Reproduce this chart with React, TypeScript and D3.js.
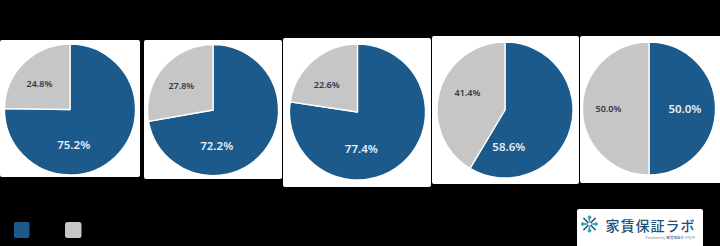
import React from "react";
import * as d3 from "d3";

// ---- data ----
const categories = ["1", "2", "3", "4", "5"];
const blueValues = [75.2, 72.2, 77.4, 58.6, 50.0];
const greyValues = [24.8, 27.8, 22.6, 41.4, 50.0];
const legendLabels = ["", ""];
const logoText = "家賃保証ラボ";
const logoSub = "家賃保証クラウド";

// ---- layout ----
const W = 720;
const H = 246;
const panels = [
  { x: 0, y: 40, w: 140, h: 137, cx: 70, cy: 109.5, r: 65.5 },
  { x: 144, y: 40, w: 138, h: 139, cx: 213, cy: 110, r: 65.5 },
  { x: 283, y: 38, w: 148, h: 149, cx: 357.5, cy: 112, r: 68 },
  { x: 432, y: 36, w: 147, h: 148, cx: 505, cy: 110, r: 68 },
  { x: 580, y: 36, w: 142, h: 147, cx: 649, cy: 108.5, r: 66.5 },
];
const BLUE = "#1b5a8b";
const GREY = "#c6c6c6";

const pieGen = d3
  .pie<number>()
  .sort(null)
  .value((d) => d)
  .startAngle(0)
  .endAngle(2 * Math.PI);

function labelPos(a: d3.PieArcDatum<number>, idx: number, r: number) {
  const mid = (a.startAngle + a.endAngle) / 2;
  const frac = (a.endAngle - a.startAngle) / (2 * Math.PI);
  let ang = mid;
  let rr: number;
  if (idx === 0) {
    if (frac > 0.5001) ang = (174 * Math.PI) / 180;
    rr = r * 0.54;
  } else {
    if (frac < 0.4999) ang = (mid + (305 * Math.PI) / 180) / 2;
    rr = r * 0.61;
  }
  return [Math.sin(ang) * rr, -Math.cos(ang) * rr];
}

function Snowflake({ cx, cy }: { cx: number; cy: number }) {
  const spokes = d3.range(8);
  return (
    <g transform={`translate(${cx},${cy})`}>
      {spokes.map((i) => {
        const ang = (i * Math.PI) / 4;
        const col = i % 2 === 0 ? "#2aa0b4" : "#1f4e79";
        const x1 = Math.sin(ang) * 2.2;
        const y1 = -Math.cos(ang) * 2.2;
        const x2 = Math.sin(ang) * 8;
        const y2 = -Math.cos(ang) * 8;
        const bx = Math.sin(ang) * 5.2;
        const by = -Math.cos(ang) * 5.2;
        const p1 = ang + 0.6;
        const p2 = ang - 0.6;
        return (
          <g key={i} stroke={col} strokeWidth={1.5} strokeLinecap="round">
            <line x1={x1} y1={y1} x2={x2} y2={y2} />
            {i % 2 === 0 && (
              <>
                <line x1={bx} y1={by} x2={bx + Math.sin(p1) * 2.2} y2={by - Math.cos(p1) * 2.2} />
                <line x1={bx} y1={by} x2={bx + Math.sin(p2) * 2.2} y2={by - Math.cos(p2) * 2.2} />
              </>
            )}
          </g>
        );
      })}
    </g>
  );
}

export default function App() {
  const fontFamily = "'Noto Sans', 'Open Sans', sans-serif";
  return (
    <svg
      width={W}
      height={H}
      viewBox={`0 0 ${W} ${H}`}
      style={{ position: "absolute", left: 0, top: 0, display: "block" }}
      fontFamily={fontFamily}
    >
      <rect x={0} y={0} width={W} height={H} fill="#000" />
      {categories.map((c, i) => {
        const p = panels[i];
        const arcs = pieGen([blueValues[i], greyValues[i]]);
        const arcGen = d3.arc<d3.PieArcDatum<number>>().innerRadius(0).outerRadius(p.r);
        return (
          <g key={c}>
            <rect x={p.x} y={p.y} width={p.w} height={p.h} rx={2} fill="#fff" />
            <g transform={`translate(${p.cx},${p.cy})`}>
              {arcs.map((a, j) => (
                <path
                  key={j}
                  d={arcGen(a) || ""}
                  fill={j === 0 ? BLUE : GREY}
                  stroke="#fff"
                  strokeWidth={1.3}
                  strokeLinejoin="round"
                />
              ))}
              {arcs.map((a, j) => {
                const [lx, ly] = labelPos(a, j, p.r);
                return (
                  <text
                    key={"t" + j}
                    x={lx}
                    y={ly}
                    textAnchor="middle"
                    dominantBaseline="central"
                    fontWeight={600}
                    fontSize={j === 0 ? 11.5 : 9}
                    fill={j === 0 ? "#e6edf4" : "#2b3a4c"}
                  >
                    {(j === 0 ? blueValues[i] : greyValues[i]).toFixed(1)}%
                  </text>
                );
              })}
            </g>
          </g>
        );
      })}
      {/* legend */}
      <rect x={14} y={222} width={15.5} height={16} rx={2} fill={BLUE} />
      <rect x={65} y={222} width={16.5} height={16} rx={2.5} fill={GREY} />
      <text x={34} y={234} fontSize={11} fill="#000">{legendLabels[0]}</text>
      <text x={86} y={234} fontSize={11} fill="#000">{legendLabels[1]}</text>
      {/* logo */}
      <rect x={577} y={209} width={126} height={40} rx={2} fill="#fff" />
      <Snowflake cx={589.5} cy={224} />
      <text
        x={605.5}
        y={231}
        fontFamily="'Noto Sans CJK JP', sans-serif"
        fontSize={14}
        fontWeight={500}
        letterSpacing={1}
        fill="#1f4e79"
      >
        {logoText}
      </text>
      <text
        x={695}
        y={238.5}
        textAnchor="end"
        fontFamily="'Noto Sans CJK JP', sans-serif"
        fontSize={3.6}
        fill="#1f4e79"
      >
        <tspan fill="#7a8a99">Powered by </tspan>
        {logoSub}
      </text>
    </svg>
  );
}
